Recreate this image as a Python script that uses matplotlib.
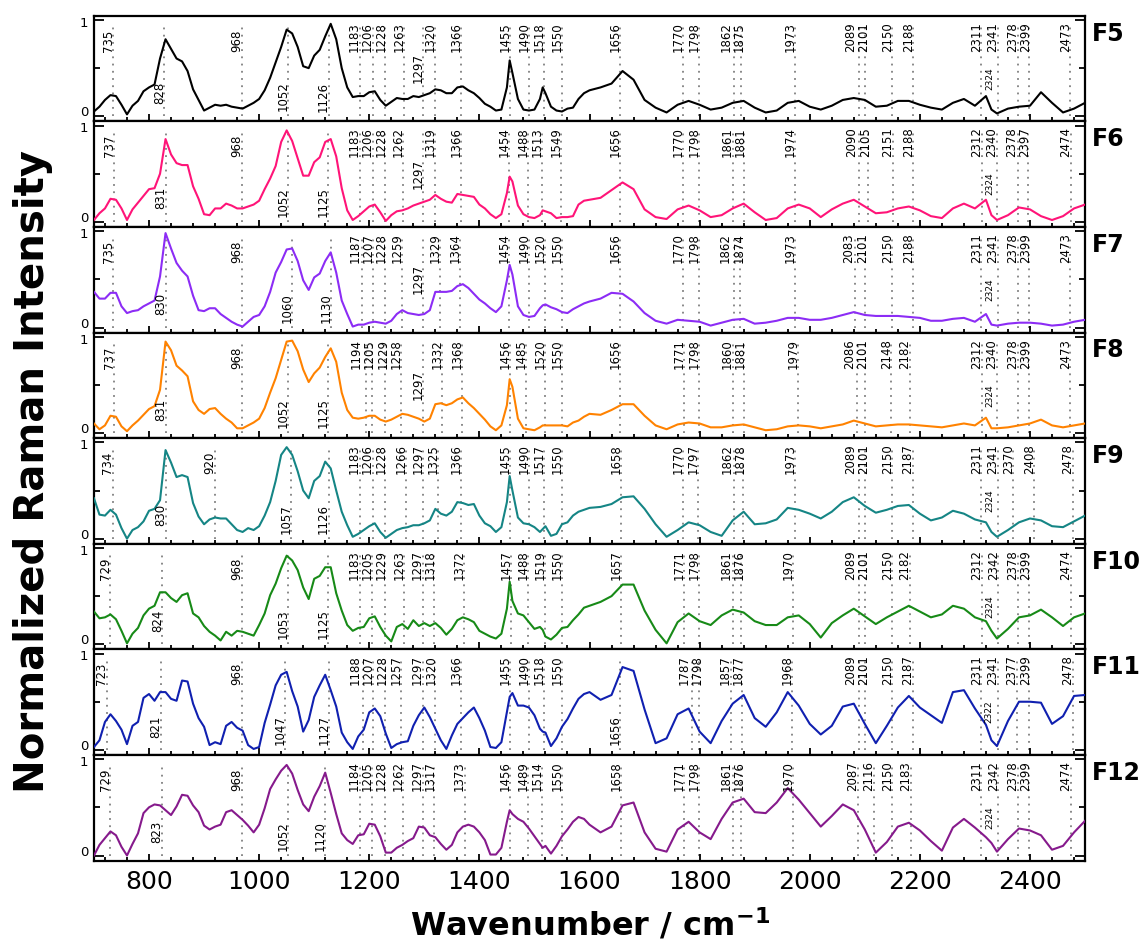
import matplotlib.pyplot as plt
from matplotlib.ticker import MultipleLocator

# sampling positions (cm-1): 10 steps on the left half, 20 steps on the right
wavenumber = (list(range(700, 1451, 10)) + [1455] + list(range(1460, 1511, 10)) + [1515]
              + list(range(1520, 1601, 10)) + list(range(1620, 2321, 20)) + [2330]
              + list(range(2340, 2501, 20)))

f5 = [0.05, 0.10, 0.17, 0.22, 0.21, 0.12, 0.02, 0.11, 0.16, 0.26,
      0.30, 0.33, 0.60, 0.80, 0.70, 0.60, 0.57, 0.47, 0.28, 0.17,
      0.06, 0.09, 0.12, 0.11, 0.12, 0.10, 0.09, 0.08, 0.11, 0.14,
      0.18, 0.27, 0.40, 0.56, 0.72, 0.90, 0.86, 0.72, 0.52, 0.50,
      0.63, 0.69, 0.83, 0.96, 0.80, 0.50, 0.30, 0.20, 0.21, 0.21,
      0.25, 0.26, 0.17, 0.11, 0.15, 0.19, 0.18, 0.18, 0.21, 0.20,
      0.22, 0.24, 0.28, 0.27, 0.24, 0.24, 0.30, 0.31, 0.27, 0.24,
      0.19, 0.13, 0.10, 0.06, 0.07, 0.30, 0.58, 0.45, 0.18, 0.07,
      0.06, 0.07, 0.18, 0.30, 0.24, 0.10, 0.06, 0.05, 0.08, 0.09,
      0.18, 0.24, 0.27,
      0.30, 0.34, 0.47, 0.38, 0.17, 0.09, 0.04, 0.12, 0.16, 0.12,
      0.07, 0.09, 0.14, 0.16, 0.09, 0.04, 0.06, 0.14, 0.16, 0.10,
      0.07, 0.11, 0.17, 0.19, 0.17, 0.10, 0.11, 0.16, 0.16, 0.12,
      0.09, 0.07, 0.14, 0.18, 0.11, 0.21, 0.07, 0.03, 0.08, 0.10,
      0.11, 0.25, 0.14, 0.04, 0.08, 0.14]

f6 = [0.02, 0.09, 0.14, 0.24, 0.23, 0.14, 0.02, 0.13, 0.20, 0.27,
      0.34, 0.35, 0.50, 0.86, 0.70, 0.61, 0.59, 0.59, 0.37, 0.24,
      0.08, 0.07, 0.14, 0.14, 0.19, 0.17, 0.14, 0.14, 0.16, 0.18,
      0.22, 0.34, 0.45, 0.58, 0.83, 0.95, 0.84, 0.66, 0.48, 0.48,
      0.62, 0.67, 0.83, 0.86, 0.68, 0.35, 0.12, 0.02, 0.06, 0.11,
      0.16, 0.18, 0.10, 0.01, 0.07, 0.11, 0.12, 0.14, 0.17, 0.19,
      0.21, 0.23, 0.28, 0.24, 0.21, 0.20, 0.29, 0.28, 0.27, 0.26,
      0.18, 0.14, 0.08, 0.04, 0.08, 0.30, 0.47, 0.42, 0.17, 0.08,
      0.05, 0.04, 0.07, 0.12, 0.11, 0.09, 0.04, 0.05, 0.05, 0.06,
      0.18, 0.22, 0.23,
      0.25, 0.33, 0.41, 0.34, 0.13, 0.05, 0.03, 0.13, 0.17, 0.12,
      0.05, 0.07, 0.14, 0.19, 0.10, 0.02, 0.04, 0.14, 0.18, 0.14,
      0.05, 0.13, 0.19, 0.23, 0.16, 0.09, 0.10, 0.14, 0.16, 0.12,
      0.06, 0.04, 0.14, 0.19, 0.14, 0.23, 0.07, 0.02, 0.07, 0.15,
      0.13, 0.06, 0.02, 0.06, 0.14, 0.18]

f7 = [0.37, 0.30, 0.30, 0.36, 0.36, 0.22, 0.15, 0.17, 0.18, 0.22,
      0.25, 0.28, 0.53, 0.98, 0.82, 0.67, 0.59, 0.53, 0.33, 0.18,
      0.17, 0.20, 0.20, 0.14, 0.10, 0.06, 0.03, 0.01, 0.06, 0.11,
      0.13, 0.22, 0.37, 0.57, 0.68, 0.81, 0.82, 0.69, 0.49, 0.39,
      0.52, 0.56, 0.69, 0.78, 0.57, 0.28, 0.14, 0.01, 0.03, 0.03,
      0.05, 0.06, 0.05, 0.04, 0.07, 0.14, 0.18, 0.15, 0.14, 0.13,
      0.14, 0.18, 0.37, 0.37, 0.37, 0.38, 0.43, 0.45, 0.41, 0.35,
      0.29, 0.25, 0.20, 0.16, 0.22, 0.49, 0.65, 0.55, 0.22, 0.13,
      0.11, 0.12, 0.20, 0.23, 0.24, 0.21, 0.19, 0.16, 0.15, 0.19,
      0.22, 0.25, 0.27,
      0.30, 0.36, 0.35, 0.27, 0.15, 0.07, 0.04, 0.08, 0.07, 0.06,
      0.02, 0.05, 0.08, 0.09, 0.04, 0.05, 0.07, 0.10, 0.10, 0.08,
      0.08, 0.10, 0.13, 0.16, 0.13, 0.12, 0.12, 0.12, 0.11, 0.10,
      0.07, 0.07, 0.09, 0.10, 0.06, 0.14, 0.03, 0.02, 0.04, 0.05,
      0.05, 0.04, 0.02, 0.03, 0.06, 0.08]

f8 = [0.10, 0.04, 0.08, 0.18, 0.17, 0.07, 0.02, 0.08, 0.13, 0.19,
      0.25, 0.28, 0.45, 0.95, 0.86, 0.70, 0.65, 0.59, 0.33, 0.24,
      0.20, 0.25, 0.26, 0.20, 0.15, 0.11, 0.05, 0.05, 0.08, 0.11,
      0.15, 0.26, 0.42, 0.57, 0.76, 0.95, 0.96, 0.85, 0.66, 0.53,
      0.62, 0.68, 0.79, 0.88, 0.74, 0.42, 0.24, 0.16, 0.15, 0.16,
      0.18, 0.18, 0.14, 0.12, 0.14, 0.17, 0.20, 0.19, 0.17, 0.15,
      0.12, 0.15, 0.30, 0.31, 0.29, 0.31, 0.35, 0.37, 0.31, 0.26,
      0.20, 0.14, 0.07, 0.03, 0.08, 0.29, 0.56, 0.48, 0.15, 0.05,
      0.04, 0.03, 0.06, 0.08, 0.08, 0.08, 0.08, 0.08, 0.07, 0.11,
      0.13, 0.17, 0.20,
      0.19, 0.24, 0.30, 0.30, 0.18, 0.08, 0.04, 0.09, 0.11, 0.10,
      0.06, 0.06, 0.08, 0.09, 0.06, 0.03, 0.04, 0.07, 0.08, 0.07,
      0.05, 0.07, 0.09, 0.13, 0.10, 0.07, 0.08, 0.09, 0.09, 0.08,
      0.07, 0.06, 0.08, 0.10, 0.08, 0.16, 0.05, 0.05, 0.06, 0.08,
      0.10, 0.14, 0.08, 0.06, 0.08, 0.10]

f9 = [0.42, 0.25, 0.24, 0.30, 0.25, 0.11, 0.00, 0.09, 0.12, 0.18,
      0.29, 0.31, 0.40, 0.92, 0.79, 0.64, 0.66, 0.64, 0.37, 0.23,
      0.15, 0.20, 0.22, 0.21, 0.21, 0.15, 0.09, 0.07, 0.11, 0.09,
      0.13, 0.24, 0.38, 0.60, 0.87, 0.95, 0.87, 0.70, 0.50, 0.42,
      0.60, 0.65, 0.80, 0.73, 0.50, 0.28, 0.14, 0.02, 0.05, 0.09,
      0.13, 0.16, 0.07, 0.01, 0.05, 0.09, 0.11, 0.12, 0.14, 0.14,
      0.16, 0.19, 0.31, 0.26, 0.24, 0.28, 0.38, 0.37, 0.35, 0.36,
      0.24, 0.16, 0.13, 0.07, 0.12, 0.38, 0.65, 0.50, 0.22, 0.16,
      0.15, 0.12, 0.07, 0.10, 0.13, 0.03, 0.05, 0.15, 0.17, 0.24,
      0.28, 0.30, 0.32,
      0.33, 0.36, 0.43, 0.44, 0.31, 0.15, 0.02, 0.09, 0.17, 0.14,
      0.07, 0.03, 0.19, 0.28, 0.15, 0.16, 0.20, 0.32, 0.30, 0.26,
      0.21, 0.28, 0.38, 0.43, 0.34, 0.27, 0.30, 0.34, 0.35, 0.26,
      0.19, 0.22, 0.29, 0.26, 0.20, 0.17, 0.07, 0.02, 0.09, 0.17,
      0.21, 0.19, 0.13, 0.12, 0.18, 0.24]

f10 = [0.34, 0.27, 0.28, 0.31, 0.26, 0.14, 0.01, 0.11, 0.17, 0.30,
       0.37, 0.40, 0.54, 0.54, 0.48, 0.44, 0.51, 0.53, 0.32, 0.28,
       0.19, 0.13, 0.09, 0.04, 0.13, 0.09, 0.14, 0.13, 0.11, 0.09,
       0.20, 0.32, 0.51, 0.63, 0.79, 0.92, 0.87, 0.77, 0.59, 0.47,
       0.68, 0.71, 0.80, 0.80, 0.53, 0.35, 0.20, 0.14, 0.17, 0.18,
       0.27, 0.29, 0.18, 0.09, 0.03, 0.18, 0.21, 0.16, 0.25, 0.19,
       0.22, 0.19, 0.22, 0.17, 0.10, 0.16, 0.25, 0.28, 0.26, 0.23,
       0.14, 0.11, 0.08, 0.06, 0.11, 0.37, 0.65, 0.45, 0.32, 0.30,
       0.23, 0.16, 0.18, 0.15, 0.08, 0.05, 0.10, 0.17, 0.18, 0.25,
       0.31, 0.38, 0.40,
       0.44, 0.50, 0.62, 0.62, 0.35, 0.15, 0.01, 0.23, 0.32, 0.24,
       0.20, 0.30, 0.36, 0.33, 0.24, 0.20, 0.20, 0.28, 0.30, 0.21,
       0.07, 0.22, 0.30, 0.37, 0.29, 0.21, 0.28, 0.34, 0.40, 0.34,
       0.28, 0.31, 0.40, 0.37, 0.28, 0.24, 0.14, 0.06, 0.16, 0.28,
       0.30, 0.36, 0.28, 0.19, 0.28, 0.32]

f11 = [0.03, 0.10, 0.29, 0.37, 0.30, 0.21, 0.06, 0.25, 0.29, 0.54,
       0.58, 0.51, 0.60, 0.60, 0.53, 0.51, 0.72, 0.71, 0.48, 0.33,
       0.24, 0.05, 0.08, 0.06, 0.25, 0.29, 0.23, 0.20, 0.05, 0.01,
       0.03, 0.28, 0.47, 0.67, 0.78, 0.81, 0.61, 0.45, 0.19, 0.31,
       0.55, 0.67, 0.78, 0.62, 0.45, 0.18, 0.08, 0.01, 0.14, 0.21,
       0.39, 0.43, 0.35, 0.17, 0.02, 0.06, 0.08, 0.09, 0.25, 0.36,
       0.44, 0.34, 0.22, 0.10, 0.01, 0.15, 0.27, 0.33, 0.39, 0.44,
       0.33, 0.20, 0.03, 0.02, 0.08, 0.39, 0.55, 0.59, 0.46, 0.46,
       0.44, 0.36, 0.22, 0.19, 0.18, 0.04, 0.12, 0.24, 0.32, 0.43,
       0.53, 0.58, 0.60,
       0.52, 0.57, 0.86, 0.82, 0.42, 0.07, 0.12, 0.37, 0.43, 0.19,
       0.07, 0.30, 0.48, 0.57, 0.33, 0.24, 0.39, 0.60, 0.46, 0.27,
       0.16, 0.25, 0.45, 0.48, 0.27, 0.07, 0.25, 0.44, 0.56, 0.44,
       0.36, 0.28, 0.60, 0.62, 0.43, 0.26, 0.10, 0.04, 0.30, 0.50,
       0.50, 0.49, 0.27, 0.35, 0.56, 0.57]

f12 = [0.00, 0.11, 0.18, 0.25, 0.21, 0.09, 0.00, 0.12, 0.23, 0.44,
       0.50, 0.53, 0.52, 0.47, 0.42, 0.51, 0.63, 0.62, 0.52, 0.45,
       0.31, 0.27, 0.30, 0.32, 0.45, 0.47, 0.42, 0.37, 0.31, 0.24,
       0.32, 0.49, 0.69, 0.79, 0.88, 0.94, 0.85, 0.68, 0.53, 0.46,
       0.61, 0.72, 0.86, 0.65, 0.43, 0.23, 0.16, 0.12, 0.21, 0.22,
       0.33, 0.32, 0.20, 0.03, 0.03, 0.08, 0.11, 0.15, 0.18, 0.30,
       0.29, 0.21, 0.19, 0.12, 0.06, 0.11, 0.24, 0.30, 0.32, 0.30,
       0.24, 0.16, 0.01, 0.01, 0.08, 0.35, 0.47, 0.43, 0.38, 0.35,
       0.28, 0.20, 0.12, 0.08, 0.10, 0.02, 0.10, 0.20, 0.27, 0.35,
       0.40, 0.38, 0.32,
       0.24, 0.30, 0.52, 0.55, 0.24, 0.07, 0.04, 0.27, 0.35, 0.24,
       0.17, 0.38, 0.55, 0.59, 0.45, 0.44, 0.55, 0.70, 0.58, 0.44,
       0.30, 0.41, 0.53, 0.47, 0.27, 0.03, 0.14, 0.30, 0.34, 0.26,
       0.15, 0.05, 0.29, 0.38, 0.29, 0.19, 0.13, 0.04, 0.17, 0.28,
       0.26, 0.21, 0.06, 0.10, 0.24, 0.36]

names = ['F5', 'F6', 'F7', 'F8', 'F9', 'F10', 'F11', 'F12']
colors = ['#000000', '#ff1478', '#8c2cf5', '#ff8200', '#158585', '#178a17', '#1020b0', '#861a8c']

# peak labels: upper row, middle (1297), lower row, small label
top_f5 = [735, 968, 1183, 1206, 1228, 1263, 1320, 1366, 1455, 1490, 1518, 1550, 1656, 1770, 1798,
          1862, 1875, 1973, 2089, 2101, 2150, 2188, 2311, 2341, 2378, 2399, 2473]
top_f6 = [737, 968, 1183, 1206, 1228, 1262, 1319, 1366, 1454, 1488, 1513, 1549, 1656, 1770, 1798,
          1861, 1881, 1974, 2090, 2105, 2151, 2188, 2312, 2340, 2378, 2397, 2474]
top_f7 = [735, 968, 1187, 1207, 1228, 1259, 1329, 1364, 1454, 1490, 1520, 1550, 1656, 1770, 1798,
          1862, 1874, 1973, 2083, 2101, 2150, 2188, 2311, 2341, 2378, 2399, 2473]
top_f8 = [737, 968, 1194, 1205, 1229, 1258, 1332, 1368, 1456, 1485, 1520, 1550, 1656, 1771, 1798,
          1860, 1881, 1979, 2086, 2101, 2148, 2182, 2312, 2340, 2378, 2399, 2473]
top_f9 = [734, 920, 1183, 1206, 1228, 1266, 1297, 1325, 1366, 1455, 1490, 1517, 1550, 1658, 1770,
          1797, 1862, 1878, 1973, 2089, 2101, 2150, 2187, 2311, 2341, 2370, 2408, 2478]
top_f10 = [729, 968, 1183, 1205, 1229, 1263, 1297, 1318, 1372, 1457, 1488, 1519, 1550, 1657, 1771,
           1798, 1861, 1876, 1970, 2089, 2101, 2150, 2182, 2312, 2342, 2378, 2399, 2474]
top_f11 = [723, 968, 1188, 1207, 1228, 1257, 1297, 1320, 1366, 1455, 1490, 1518, 1550, 1787, 1798,
           1857, 1877, 1968, 2089, 2101, 2150, 2187, 2311, 2341, 2377, 2399, 2478]
top_f12 = [729, 968, 1184, 1205, 1228, 1262, 1297, 1317, 1373, 1456, 1489, 1514, 1550, 1658, 1771,
           1798, 1861, 1876, 1970, 2087, 2116, 2150, 2183, 2311, 2342, 2378, 2399, 2474]
mid_peaks = [[1297], [1297], [1297], [1297], [], [], [], []]
low_f5 = [828, 1052, 1126]
low_f6 = [831, 1052, 1125]
low_f7 = [830, 1060, 1130]
low_f8 = [831, 1052, 1125]
low_f9 = [830, 1057, 1126]
low_f10 = [824, 1053, 1125]
low_f11 = [821, 1047, 1127, 1656]
low_f12 = [823, 1052, 1120]
small_peak = [2324, 2324, 2324, 2324, 2324, 2324, 2322, 2324]

spectra = [f5, f6, f7, f8, f9, f10, f11, f12]
tops = [top_f5, top_f6, top_f7, top_f8, top_f9, top_f10, top_f11, top_f12]
lows = [low_f5, low_f6, low_f7, low_f8, low_f9, low_f10, low_f11, low_f12]


def spread(peaks, gap):
    # push crowded labels apart so the rotated texts do not collide
    pos = [float(p) for p in sorted(peaks)]
    for _ in range(60):
        for j in range(1, len(pos)):
            d = pos[j] - pos[j - 1]
            if d < gap:
                pos[j - 1] -= (gap - d) / 2
                pos[j] += (gap - d) / 2
    return pos


fig = plt.figure(figsize=(11.43, 9.42), dpi=100)
axes = fig.subplots(8, 1, sharex=True)
fig.subplots_adjust(left=0.0822, right=0.9493, top=0.9833, bottom=0.0865, hspace=0)

for i, ax in enumerate(axes):
    all_peaks = tops[i] + mid_peaks[i] + lows[i]
    ax.vlines(all_peaks, 0.0, 0.93, colors='#808080', linestyles=(0, (1, 3)), lw=1.3, zorder=1)
    ax.plot(wavenumber, spectra[i], color=colors[i], lw=1.5, zorder=3)

    for p, xp in zip(sorted(tops[i]), spread(tops[i], 24)):
        ax.text(xp + 3, 0.67, str(p), rotation=90, ha='right', va='bottom', fontsize=8.5)
    for p in mid_peaks[i]:
        ax.text(p + 3, 0.655, str(p), rotation=90, ha='right', va='top', fontsize=8.5)
    for p in lows[i]:
        ax.text(p + 3, 0.36, str(p), rotation=90, ha='right', va='top', fontsize=8.5)
    ax.text(small_peak[i] + 3, 0.51, str(small_peak[i]), rotation=90, ha='center', va='top',
            fontsize=6.5)

    ax.text(1.007, 0.83, names[i], transform=ax.transAxes, fontsize=17, fontweight='bold',
            ha='left', va='center')

    ax.set_xlim(700, 2500)
    ax.set_ylim(-0.052, 1.044)
    ax.set_yticks([0, 1])
    ax.set_yticklabels([])
    ax.set_yticks([0.5], minor=True)
    # y labels drawn by hand, nudged a little apart where panels meet
    ytrans = ax.get_yaxis_transform()
    ax.text(-0.006, 0.035, '0', transform=ytrans, ha='right', va='center', fontsize=9.5)
    ax.text(-0.006, 0.965, '1', transform=ytrans, ha='right', va='center', fontsize=9.5)

    ax.xaxis.set_major_locator(MultipleLocator(200))
    ax.xaxis.set_minor_locator(MultipleLocator(40))
    ax.tick_params(axis='y', which='both', direction='in', left=True, right=True, width=1.3)
    ax.tick_params(axis='y', which='major', length=7)
    ax.tick_params(axis='y', which='minor', length=4)
    ax.tick_params(axis='x', which='both', direction='in', bottom=True, top=False,
                   labelsize=18, width=1.3, pad=7)
    ax.tick_params(axis='x', which='major', length=5)
    ax.tick_params(axis='x', which='minor', length=3)
    for s in ax.spines.values():
        s.set_linewidth(1.6)

fig.text(0.516, 0.0074, 'Wavenumber / cm$^{\\mathbf{-1}}$', ha='center', va='baseline',
         fontsize=23, fontweight='bold')
fig.text(0.029, 0.499, 'Normalized Raman Intensity', rotation=90, ha='center', va='center',
         fontsize=29, fontweight='bold')

fig.savefig('out.png', dpi=100)
